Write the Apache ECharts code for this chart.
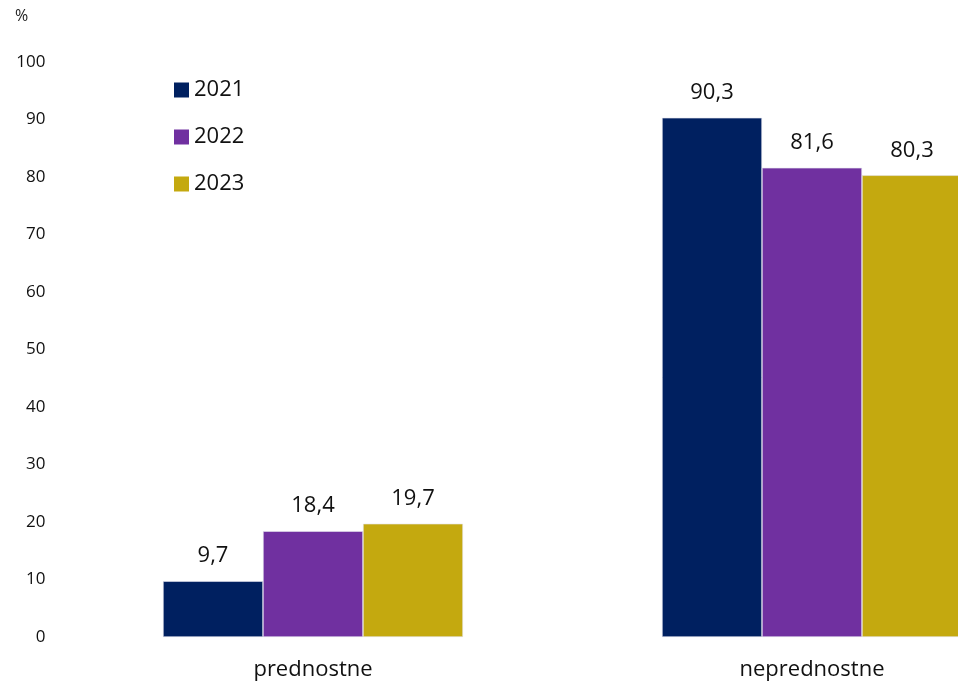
<!DOCTYPE html>
<html>
<head>
<meta charset="utf-8">
<script src="https://cdn.jsdelivr.net/npm/echarts@6/dist/echarts.min.js"></script>
<style>
  html, body { margin: 0; padding: 0; background: #ffffff; }
  #chart { width: 958px; height: 685px; }
</style>
</head>
<body>
<div id="chart"></div>
<script>
// Share of requests by type (%), per year
const categories = ['prednostne', 'neprednostne'];
const years = ['2021', '2022', '2023'];
const values2021 = [9.7, 90.3];
const values2022 = [18.4, 81.6];
const values2023 = [19.7, 80.3];
const yTicks = [0, 10, 20, 30, 40, 50, 60, 70, 80, 90, 100];

const colors = ['#002060', '#7030A0', '#C4A90F'];
const font = '"Open Sans", "Noto Sans", sans-serif';

const seriesValues = [values2021, values2022, values2023];

const chart = echarts.init(document.getElementById('chart'));
chart.setOption({
  animation: false,
  backgroundColor: '#ffffff',
  textStyle: { fontFamily: font },
  graphic: [{
    type: 'text',
    left: 15,
    top: 8,
    style: { text: '%', fontSize: 16, fill: '#222', fontFamily: font }
  }],
  legend: {
    orient: 'vertical',
    left: 169,
    top: 74,
    itemWidth: 15,
    itemHeight: 15,
    itemGap: 25,
    icon: 'rect',
    itemStyle: { borderWidth: 0 },
    textStyle: { fontSize: 22, color: '#111', fontFamily: font },
    data: years
  },
  // the second group runs past the right edge of the canvas
  grid: { left: 63.5, top: 62, width: 998, height: 575, outerBoundsMode: 'none', containLabel: false },
  xAxis: {
    type: 'category',
    data: categories,
    axisLine: { show: false },
    axisTick: { show: false },
    axisLabel: { fontSize: 22, color: '#111', margin: 22, fontFamily: font }
  },
  yAxis: {
    type: 'value',
    min: yTicks[0],
    max: yTicks[yTicks.length - 1],
    interval: 10,
    splitLine: { show: false },
    axisLine: { show: false },
    axisTick: { show: false },
    axisLabel: { fontSize: 17, color: '#111', margin: 18, fontFamily: font }
  },
  series: years.map((y, i) => ({
    name: y,
    type: 'bar',
    data: seriesValues[i],
    barWidth: 100,
    barGap: '0%',
    itemStyle: { color: colors[i], borderColor: '#e4e4ee', borderWidth: 0.6 },
    label: {
      show: true,
      position: 'top',
      distance: 14,
      fontSize: 22,
      color: '#111',
      fontFamily: font,
      formatter: p => String(p.value).replace('.', ',')
    }
  }))
});
</script>
</body>
</html>
